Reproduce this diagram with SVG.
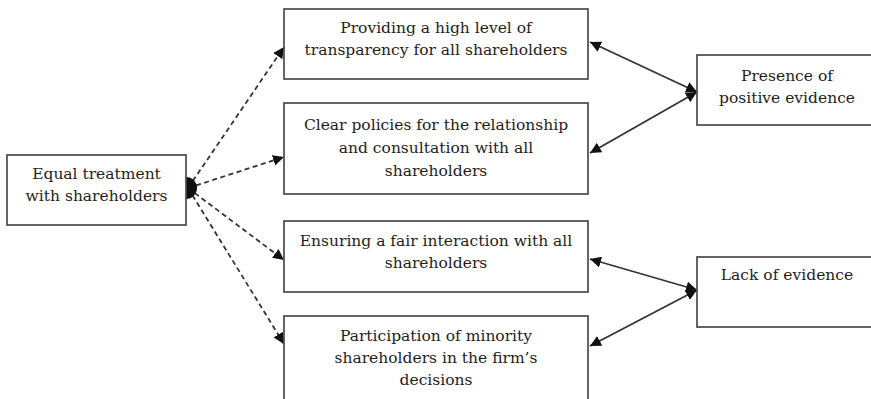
<svg xmlns="http://www.w3.org/2000/svg" width="871" height="399" viewBox="0 0 871 399">
  <style>
    .box { fill: #ffffff; stroke: #4a4a4a; stroke-width: 1.7; }
    .lbl { font-family: "DejaVu Serif", "Liberation Serif", serif; font-size: 15.5px; fill: #1e1e1e; text-anchor: middle; }
    .dash { fill: none; stroke: #333333; stroke-width: 1.8; stroke-dasharray: 5 3.5; }
    .solid { fill: none; stroke: #333333; stroke-width: 1.8; }
  </style>
  <defs>
    <marker id="head" viewBox="0 0 10 10" refX="10" refY="5" markerWidth="11" markerHeight="11" markerUnits="userSpaceOnUse" orient="auto-start-reverse">
      <path d="M0,0 L10,5 L0,10 Z" fill="#111111"/>
    </marker>
  </defs>

  <rect width="871" height="399" fill="#ffffff"/>

  <g id="connectors">
    <!-- dashed links fanning out of the left node -->
    <line class="dash" x1="188" y1="188" x2="284" y2="47" marker-end="url(#head)"/>
    <line class="dash" x1="188" y1="188" x2="284" y2="157" marker-end="url(#head)"/>
    <line class="dash" x1="188" y1="188" x2="284" y2="260" marker-end="url(#head)"/>
    <line class="dash" x1="188" y1="188" x2="284" y2="344" marker-end="url(#head)"/>
    <!-- clustered tails where the dashed links leave the left node -->
    <path d="M186,177 A11,11 0 0 1 186,199 Z" fill="#111111"/>
    <!-- solid two-way links to the evidence nodes -->
    <line class="solid" x1="697" y1="92" x2="590" y2="42" marker-start="url(#head)" marker-end="url(#head)"/>
    <line class="solid" x1="697" y1="92" x2="590" y2="153" marker-start="url(#head)" marker-end="url(#head)"/>
    <line class="solid" x1="697" y1="290" x2="590" y2="259" marker-start="url(#head)" marker-end="url(#head)"/>
    <line class="solid" x1="697" y1="290" x2="590" y2="346" marker-start="url(#head)" marker-end="url(#head)"/>
  </g>

  <g id="equal-treatment">
    <rect class="box" x="7" y="155" width="179" height="70"/>
    <text class="lbl" x="96.5" y="179">Equal treatment</text>
    <text class="lbl" x="96.5" y="201">with shareholders</text>
  </g>

  <g id="transparency">
    <rect class="box" x="284" y="9" width="304" height="70"/>
    <text class="lbl" x="436" y="33">Providing a high level of</text>
    <text class="lbl" x="436" y="55">transparency for all shareholders</text>
  </g>

  <g id="clear-policies">
    <rect class="box" x="284" y="103" width="304" height="91"/>
    <text class="lbl" x="436" y="130">Clear policies for the relationship</text>
    <text class="lbl" x="436" y="153">and consultation with all</text>
    <text class="lbl" x="436" y="176">shareholders</text>
  </g>

  <g id="fair-interaction">
    <rect class="box" x="284" y="221" width="304" height="71"/>
    <text class="lbl" x="436" y="246">Ensuring a fair interaction with all</text>
    <text class="lbl" x="436" y="268">shareholders</text>
  </g>

  <g id="minority-participation">
    <rect class="box" x="284" y="316" width="304" height="100"/>
    <text class="lbl" x="436" y="341">Participation of minority</text>
    <text class="lbl" x="436" y="363">shareholders in the firm’s</text>
    <text class="lbl" x="436" y="385">decisions</text>
  </g>

  <g id="positive-evidence">
    <rect class="box" x="697" y="55" width="190" height="70"/>
    <text class="lbl" x="787" y="81">Presence of</text>
    <text class="lbl" x="787" y="103">positive evidence</text>
  </g>

  <g id="lack-of-evidence">
    <rect class="box" x="697" y="257" width="190" height="70"/>
    <text class="lbl" x="787" y="280">Lack of evidence</text>
  </g>
</svg>
